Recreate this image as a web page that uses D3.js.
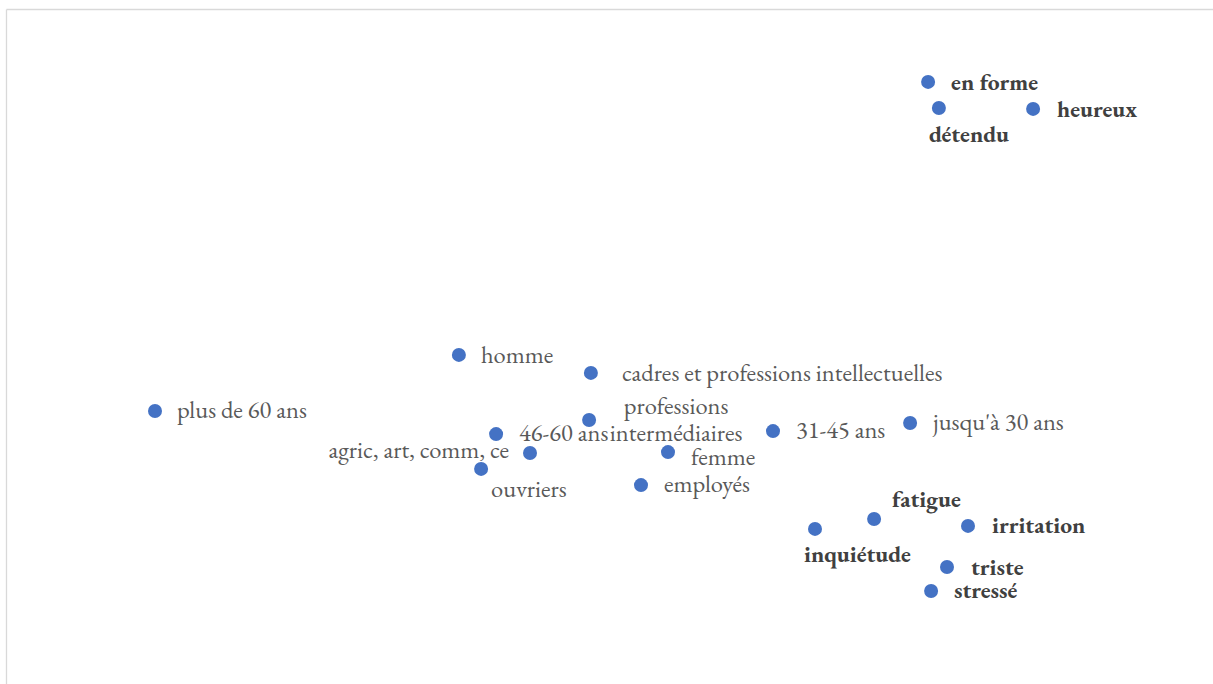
<!DOCTYPE html>
<html>
<head>
<meta charset="utf-8">
<script src="https://cdn.jsdelivr.net/npm/d3@7"></script>
<style>
  html, body { margin: 0; padding: 0; background: #ffffff; }
  svg { display: block; }
</style>
</head>
<body>
<svg id="chart" width="1213" height="684"></svg>
<script>
// ---- data (correspondence-analysis style map; axes hidden) ----
const labels = [
  "en forme", "détendu", "heureux",
  "homme", "cadres et professions intellectuelles", "plus de 60 ans",
  "professions intermédiaires", "46-60 ans", "agric, art, comm, ce",
  "ouvriers", "femme", "employés", "31-45 ans", "jusqu'à 30 ans",
  "fatigue", "irritation", "inquiétude", "triste", "stressé"
];
const xValues = [
  1.127, 1.163, 1.477,
  -0.437, 0.003, -1.450,
  -0.003, -0.313, -0.200,
  -0.363, 0.260, 0.170, 0.610, 1.067,
  0.947, 1.260, 0.750, 1.190, 1.137
];
const yValues = [
  1.127, 1.040, 1.037,
  0.217, 0.157, 0.030,
  0.000, -0.047, -0.110,
  -0.163, -0.107, -0.217, -0.037, -0.010,
  -0.330, -0.353, -0.363, -0.490, -0.570
];
const isMood = [
  true, true, true,
  false, false, false,
  false, false, false,
  false, false, false, false, false,
  true, true, true, true, true
];

// ---- layout (label placement relative to each point) ----
const labelLayout = {
  "en forme": {anchor: "start", dx: 23, dy: 8},
  "détendu": {anchor: "start", dx: -10, dy: 34},
  "heureux": {anchor: "start", dx: 24, dy: 8},
  "homme": {anchor: "start", dx: 22, dy: 8},
  "cadres et professions intellectuelles": {anchor: "start", dx: 31, dy: 8},
  "plus de 60 ans": {anchor: "start", dx: 22, dy: 7},
  "professions intermédiaires": {anchor: "middle", dx: 87, dy: -6, lines: ["professions", "intermédiaires"], lh: 27},
  "46-60 ans": {anchor: "start", dx: 23, dy: 7},
  "agric, art, comm, ce": {anchor: "end", dx: -21, dy: 5},
  "ouvriers": {anchor: "start", dx: 10, dy: 28},
  "femme": {anchor: "start", dx: 23, dy: 13},
  "employés": {anchor: "start", dx: 23, dy: 7},
  "31-45 ans": {anchor: "start", dx: 23, dy: 7},
  "jusqu'à 30 ans": {anchor: "start", dx: 23, dy: 7},
  "fatigue": {anchor: "start", dx: 18, dy: -12},
  "irritation": {anchor: "start", dx: 24, dy: 7},
  "inquiétude": {anchor: "start", dx: -11, dy: 33},
  "triste": {anchor: "start", dx: 24, dy: 8},
  "stressé": {anchor: "start", dx: 23, dy: 7}
};

const W = 1213, H = 684;
const svg = d3.select("#chart");

const x = d3.scaleLinear().domain([-2, 2.1]).range([-10, 1220]);
const y = d3.scaleLinear().domain([-0.9, 1.4]).range([690, 0]);

// chart-area border (only top and left edges visible in the crop)
svg.append("line").attr("x1", 6.5).attr("x2", W).attr("y1", 9.5).attr("y2", 9.5)
  .attr("stroke", "#d9d9d9").attr("stroke-width", 1.3);
svg.append("line").attr("x1", 6.5).attr("x2", 6.5).attr("y1", 9.5).attr("y2", H)
  .attr("stroke", "#d9d9d9").attr("stroke-width", 1.3);

const pts = labels.map((l, i) => ({label: l, x: xValues[i], y: yValues[i], mood: isMood[i]}));

svg.append("g").selectAll("circle").data(pts).join("circle")
  .attr("cx", d => x(d.x)).attr("cy", d => y(d.y)).attr("r", 7)
  .attr("fill", "#4472c4");

const fontFamily = "'EB Garamond', Garamond, 'Liberation Serif', serif";
const tg = svg.append("g");
pts.forEach(d => {
  const L = labelLayout[d.label];
  const t = tg.append("text")
    .attr("x", x(d.x) + L.dx)
    .attr("y", y(d.y) + L.dy)
    .attr("text-anchor", L.anchor)
    .attr("font-family", fontFamily)
    .attr("font-size", d.mood ? 23.5 : 24.5)
    .attr("font-weight", d.mood ? "bold" : "normal")
    .attr("fill", d.mood ? "#404040" : "#595959");
  if (L.lines) {
    L.lines.forEach((ln, k) => {
      t.append("tspan").attr("x", x(d.x) + L.dx).attr("dy", k === 0 ? 0 : L.lh).text(ln);
    });
  } else {
    t.text(d.label);
  }
});
</script>
</body>
</html>
